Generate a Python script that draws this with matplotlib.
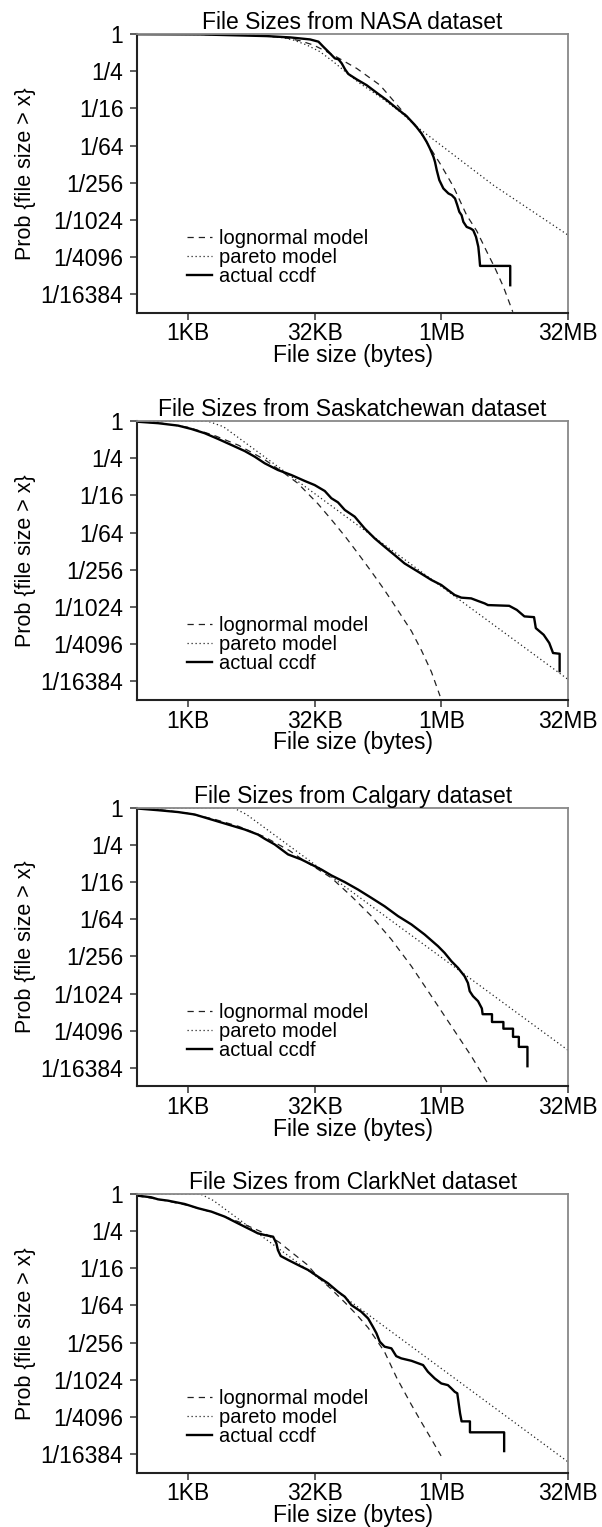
import numpy as np
import matplotlib.pyplot as plt
from matplotlib.ticker import NullLocator

plt.rcParams['font.family'] = ['Liberation Sans', 'DejaVu Sans']

# all values are log2 exponents: x = log2(bytes), y = log2(P{size > x})
TITLES = ['File Sizes from NASA dataset', 'File Sizes from Saskatchewan dataset',
          'File Sizes from Calgary dataset', 'File Sizes from ClarkNet dataset']

NASA_CCDF_X = [8.0, 10.48, 13.11, 14.03, 14.82, 15.15, 15.34, 15.54, 15.67, 15.80, 15.94, 16.07, 16.2, 16.33,
               16.66, 17.05, 17.45, 17.84, 18.24, 18.63, 18.96, 19.22, 19.42, 19.55, 19.69, 19.75, 19.82, 19.92,
               20.08, 20.28, 20.41, 20.54, 20.63, 20.71, 20.80, 20.87, 21.0, 21.16, 21.26, 21.37, 21.46, 21.5,
               21.53, 22.72, 22.72]
NASA_CCDF_Y = [-0.01, -0.02, -0.11, -0.18, -0.29, -0.41, -0.68, -0.95, -1.13, -1.31, -1.36, -1.58, -1.9, -2.15,
               -2.44, -2.75, -3.16, -3.55, -4.0, -4.42, -4.9, -5.35, -5.8, -6.16, -6.61, -6.88, -7.33, -7.86,
               -8.31, -8.58, -8.67, -8.85, -9.21, -9.57, -9.75, -10.11, -10.38, -10.47, -10.56, -10.92, -11.45,
               -11.99, -12.48, -12.48, -13.52]
NASA_LOGN_X = [8.0, 10.5, 12.5, 13.76, 14.42, 14.95, 15.48, 15.90, 16.66, 17.58, 18.37, 19.16, 19.95, 20.48,
               21.0, 21.4, 21.79, 22.12, 22.45, 22.82]
NASA_LOGN_Y = [-0.01, -0.02, -0.07, -0.18, -0.36, -0.59, -0.95, -1.26, -1.85, -2.75, -4.0, -5.26, -6.97, -8.22,
               -9.75, -10.6, -11.7, -12.6, -13.6, -14.95]
NASA_PAR_X = [8.0, 12.0, 13.0, 13.76, 14.16, 14.69, 15.21, 15.74, 16.26, 16.79, 17.58, 18.37, 19.03, 22.05, 25.0]
NASA_PAR_Y = [-0.01, -0.03, -0.08, -0.2, -0.32, -0.59, -0.95, -1.49, -2.08, -2.66, -3.38, -4.18, -4.99, -8.13, -10.82]

SASK_CCDF_X = [8.0, 8.82, 9.61, 10.13, 10.66, 11.19, 11.71, 12.24, 12.63, 13.03, 13.55, 14.08, 14.61, 15.0, 15.4,
               15.66, 15.92, 16.19, 16.58, 16.97, 17.37, 17.76, 18.16, 18.55, 19.08, 19.61, 20.0, 20.26, 20.53,
               20.79, 21.18, 21.45, 21.71, 21.84, 22.68, 22.98, 23.28, 23.66, 23.73, 24.04, 24.26, 24.41, 24.67,
               24.67]
SASK_CCDF_Y = [-0.03, -0.11, -0.24, -0.42, -0.65, -0.96, -1.28, -1.61, -1.91, -2.27, -2.63, -2.9, -3.22, -3.44,
               -3.76, -4.15, -4.37, -4.78, -5.14, -5.77, -6.31, -6.76, -7.21, -7.66, -8.1, -8.55, -8.82, -9.09,
               -9.36, -9.5, -9.54, -9.68, -9.81, -9.9, -9.94, -10.16, -10.51, -10.55, -11.14, -11.5, -11.94,
               -12.48, -12.52, -13.46]
SASK_LOGN_X = [8.0, 9.0, 10.0, 11.0, 12.0, 13.0, 13.8, 14.34, 15.13, 15.66, 16.2, 16.7, 17.24, 17.71, 18.03,
               18.82, 19.22, 19.61, 19.95]
SASK_LOGN_Y = [-0.03, -0.12, -0.33, -0.75, -1.3, -2.05, -2.8, -3.35, -4.45, -5.3, -6.2, -7.1, -8.1, -9.0, -9.65,
               -11.3, -12.35, -13.5, -14.8]
SASK_PAR_X = [8.0, 10.8, 11.4, 25.0]
SASK_PAR_Y = [-0.01, -0.01, -0.3, -13.9]

CALG_CCDF_X = [8.0, 8.82, 9.61, 10.26, 10.92, 11.58, 12.24, 12.76, 13.03, 13.42, 13.95, 14.47, 14.87, 15.26,
               15.66, 16.19, 16.71, 17.24, 17.76, 18.29, 18.82, 19.34, 19.87, 20.13, 20.4, 20.66, 20.92, 21.05,
               21.12, 21.25, 21.45, 21.6, 21.63, 22.0, 22.0, 22.45, 22.45, 22.83, 22.83, 23.06, 23.06, 23.4, 23.4]
CALG_CCDF_Y = [-0.04, -0.13, -0.23, -0.36, -0.63, -0.9, -1.17, -1.44, -1.67, -1.97, -2.51, -2.78, -3.05, -3.32,
               -3.64, -4.0, -4.4, -4.85, -5.3, -5.83, -6.28, -6.82, -7.45, -7.81, -8.26, -8.62, -9.07, -9.43,
               -9.87, -10.14, -10.41, -10.8, -11.11, -11.11, -11.53, -11.53, -11.89, -11.89, -12.33, -12.33,
               -12.87, -12.87, -13.91]
CALG_LOGN_X = [8.0, 9.0, 10.0, 11.0, 12.0, 13.0, 14.0, 14.61, 15.0, 15.66, 16.45, 17.24, 18.03, 18.82, 19.61,
               20.4, 21.19, 21.84]
CALG_LOGN_Y = [-0.03, -0.12, -0.3, -0.6, -1.0, -1.55, -2.3, -2.87, -3.2, -3.77, -4.76, -5.83, -7.09, -8.53,
               -10.14, -11.76, -13.38, -14.85]
CALG_PAR_X = [8.0, 11.8, 12.3, 25.0]
CALG_PAR_Y = [-0.01, -0.01, -0.35, -13.05]

CLARK_CCDF_X = [8.0, 8.55, 8.82, 9.21, 9.87, 10.4, 10.92, 11.45, 11.97, 12.5, 12.76, 13.03, 13.36, 13.49, 13.55,
                13.66, 13.95, 14.34, 14.74, 15.13, 15.53, 15.92, 16.19, 16.45, 16.84, 17.11, 17.3, 17.44, 17.57,
                17.76, 18.03, 18.22, 18.42, 18.82, 19.28, 19.47, 19.74, 20.0, 20.26, 20.4, 20.53, 20.63, 20.74,
                20.8, 21.13, 21.13, 22.48, 22.48]
CLARK_CCDF_Y = [-0.09, -0.18, -0.29, -0.36, -0.54, -0.77, -0.95, -1.22, -1.58, -1.94, -2.12, -2.21, -2.3, -2.66,
                -3.02, -3.34, -3.55, -3.82, -4.09, -4.45, -4.81, -5.26, -5.53, -5.98, -6.34, -6.7, -7.15, -7.5,
                -7.95, -8.22, -8.31, -8.73, -8.85, -8.98, -9.21, -9.57, -9.93, -10.2, -10.29, -10.47, -10.65,
                -10.73, -11.81, -12.24, -12.24, -12.83, -12.83, -13.84]
CLARK_LOGN_X = [8.0, 9.0, 10.0, 11.0, 12.0, 13.0, 13.6, 14.1, 14.7, 15.15, 15.6, 16.2, 16.66, 17.11, 17.76,
                18.24, 18.8, 19.22, 19.61, 19.99]
CLARK_LOGN_Y = [-0.1, -0.33, -0.62, -1.0, -1.5, -2.1, -2.6, -3.15, -3.8, -4.5, -5.05, -5.85, -6.5, -7.2, -8.5,
                -9.9, -11.3, -12.3, -13.2, -14.1]
CLARK_PAR_X = [8.0, 10.5, 11.0, 25.0]
CLARK_PAR_Y = [-0.01, -0.01, -0.35, -14.42]

X_TICKS = [10, 15, 20, 25]
X_LABELS = ['1KB', '32KB', '1MB', '32MB']
Y_TICKS = [0, -2, -4, -6, -8, -10, -12, -14]
Y_LABELS = ['1', '1/4', '1/16', '1/64', '1/256', '1/1024', '1/4096', '1/16384']

panels = [
    (NASA_CCDF_X, NASA_CCDF_Y, NASA_LOGN_X, NASA_LOGN_Y, NASA_PAR_X, NASA_PAR_Y),
    (SASK_CCDF_X, SASK_CCDF_Y, SASK_LOGN_X, SASK_LOGN_Y, SASK_PAR_X, SASK_PAR_Y),
    (CALG_CCDF_X, CALG_CCDF_Y, CALG_LOGN_X, CALG_LOGN_Y, CALG_PAR_X, CALG_PAR_Y),
    (CLARK_CCDF_X, CLARK_CCDF_Y, CLARK_LOGN_X, CLARK_LOGN_Y, CLARK_PAR_X, CLARK_PAR_Y),
]
bottoms = [0.7952, 0.5417, 0.2885, 0.0356]

fig = plt.figure(figsize=(6.02, 15.27), dpi=100)
p2 = lambda v: np.power(2.0, np.array(v))

for i, (cx, cy, lx, ly, px, py) in enumerate(panels):
    ax = fig.add_axes([0.2281, bottoms[i], 0.7154, 0.1825])
    ax.set_xscale('log', base=2)
    ax.set_yscale('log', base=2)
    ax.plot(p2(lx), p2(ly), color='#222222', lw=0.9, ls=(0, (5, 4)), label='lognormal model')
    ax.plot(p2(px), p2(py), color='#222222', lw=0.9, ls=(0, (1, 2.2)), label='pareto model')
    ax.plot(p2(cx), p2(cy), color='black', lw=1.7, label='actual ccdf')
    ax.set_xlim(2 ** 8, 2 ** 25)
    ax.set_ylim(2 ** -15, 1)
    ax.set_xticks(p2(X_TICKS))
    ax.set_xticklabels(X_LABELS)
    ax.set_yticks(p2(Y_TICKS))
    ax.set_yticklabels(Y_LABELS)
    ax.xaxis.set_minor_locator(NullLocator())
    ax.yaxis.set_minor_locator(NullLocator())
    ax.tick_params(axis='both', direction='out', length=5, width=1.1, labelsize=16.5, color='#333333')
    ax.tick_params(axis='x', pad=2)
    ax.tick_params(axis='y', pad=5)
    for s in ['left', 'bottom']:
        ax.spines[s].set_linewidth(1.5)
        ax.spines[s].set_color('#222222')
    for s in ['top', 'right']:
        ax.spines[s].set_linewidth(1.3)
        ax.spines[s].set_color('#888888')
    ax.set_title(TITLES[i], fontsize=16.5, pad=3)
    ax.set_xlabel('File size (bytes)', fontsize=16.5)
    ax.xaxis.set_label_coords(0.5, -0.112)
    ax.set_ylabel('Prob {file size > x}', fontsize=15.5)
    ax.yaxis.set_label_coords(-0.235, 0.5)
    ax.legend(loc='center left', bbox_to_anchor=(0.116, 0.197), frameon=False, fontsize=14.5,
              borderpad=0, borderaxespad=0, handlelength=1.25, handletextpad=0.32, labelspacing=0.0)

fig.savefig('out.png', dpi=100)
plt.close()
